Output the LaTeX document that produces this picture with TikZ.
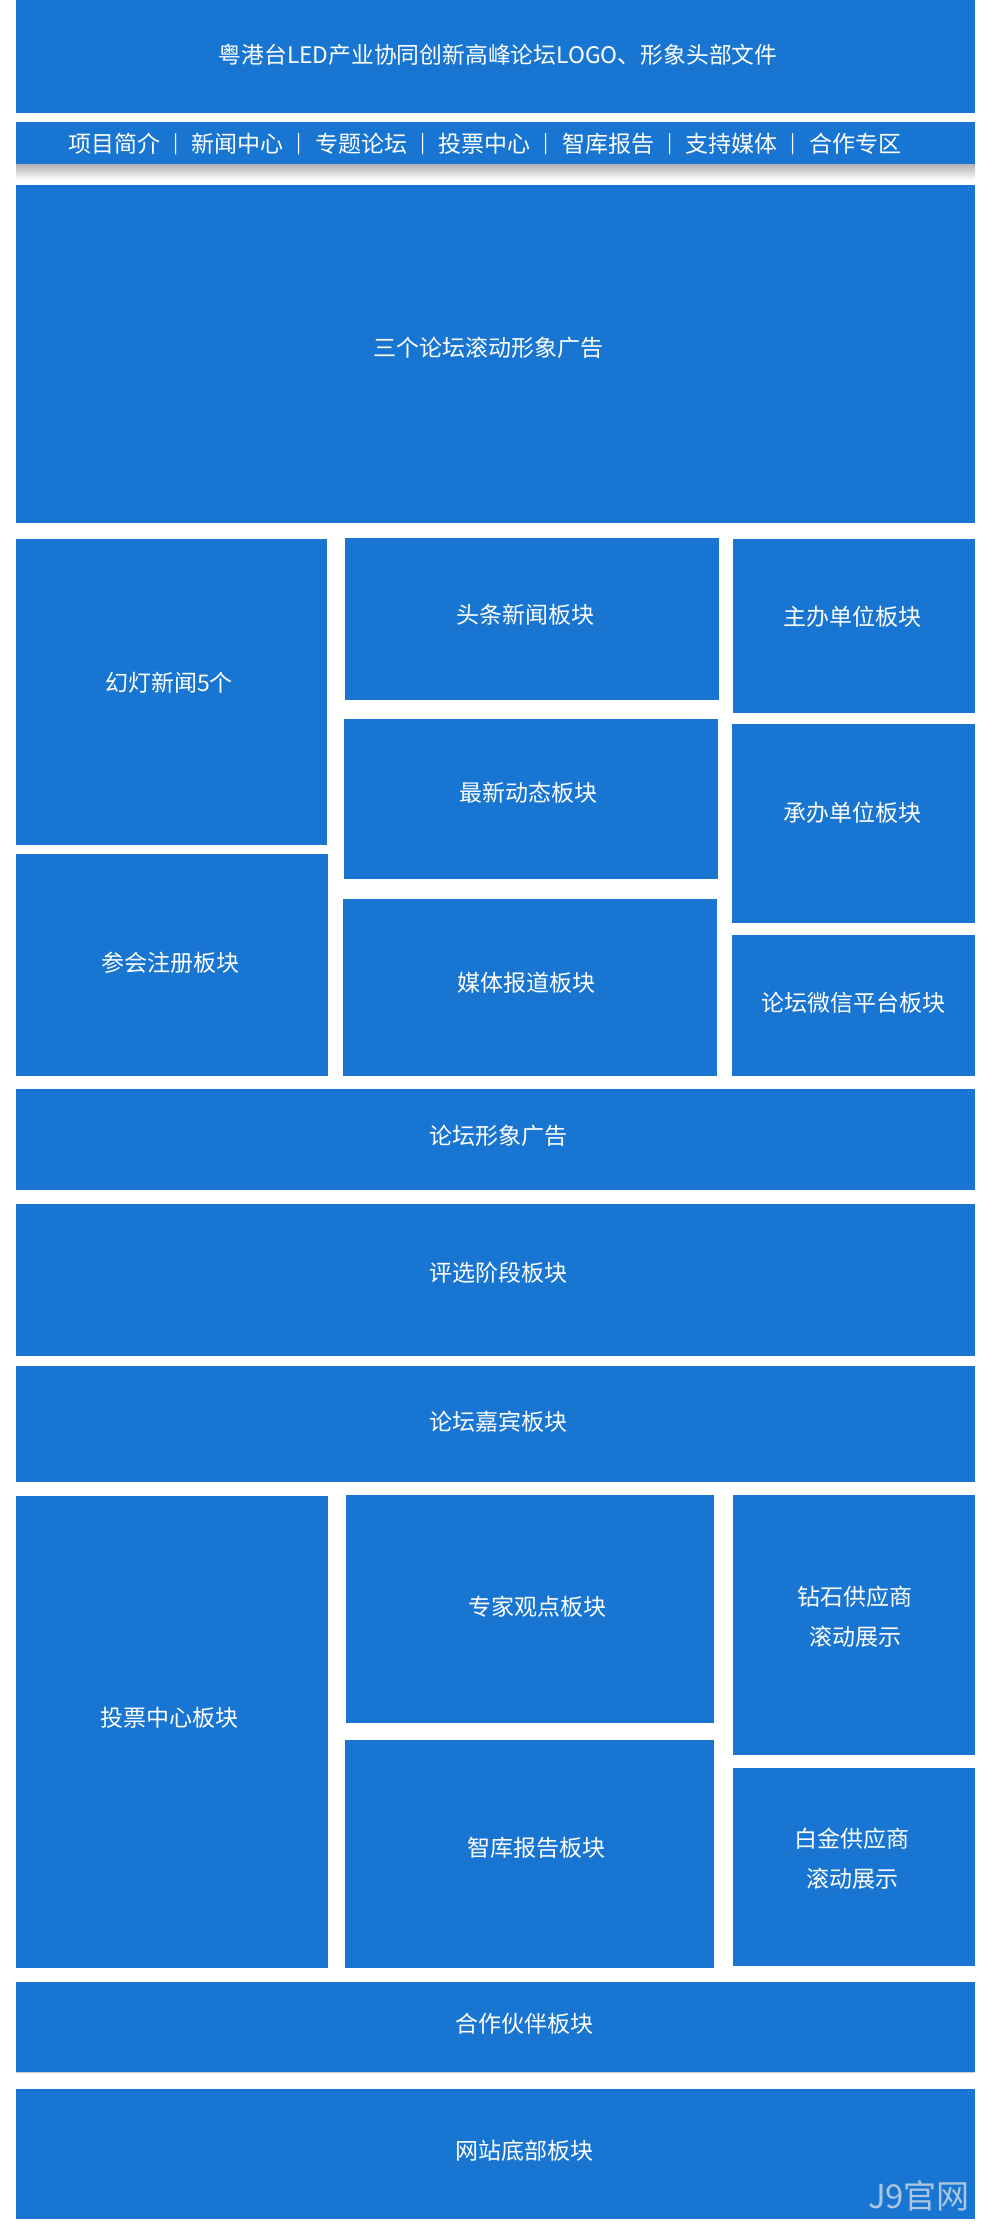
\documentclass[tikz,border=0pt]{standalone}
\usepackage{fontspec}
\setmainfont{Noto Sans CJK SC}
\definecolor{blk}{RGB}{24,118,210}
\definecolor{wmark}{RGB}{172,198,224}
\begin{document}
\begin{tikzpicture}[x=1pt,y=-1pt,
  box/.style={fill=blk, draw=none},
  lbl/.style={text=white, font=\fontsize{23}{40}\selectfont, inner sep=0pt, align=center},
  navlbl/.style={text=white, font=\fontsize{23}{28}\selectfont, inner sep=0pt},
  sep/.style={text=white, font=\fontsize{19}{22}\selectfont, inner sep=0pt}]
\useasboundingbox[fill=white] (0,0) rectangle (992,2227);

% header
\fill[box] (16,0) rectangle (975,113);
\node[lbl, font=\fontsize{22.8}{26}\selectfont] (title) at (498,55) {粤港台LED产业协同创新高峰论坛LOGO、形象头部文件};

% navigation bar
\fill[box] (16,122) rectangle (975,164);
\shade[top color=black!30, bottom color=white] (16,164) rectangle (975,180);
\node[navlbl] (n1) at (114,144) {项目简介};
\node[navlbl] (n2) at (237.5,144) {新闻中心};
\node[navlbl] (n3) at (361,144) {专题论坛};
\node[navlbl] (n4) at (484.5,144) {投票中心};
\node[navlbl] (n5) at (608,144) {智库报告};
\node[navlbl] (n6) at (731.5,144) {支持媒体};
\node[navlbl] (n7) at (855,144) {合作专区};
\node[sep] (s1) at (176,144) {|};
\node[sep] (s2) at (299.5,144) {|};
\node[sep] (s3) at (423,144) {|};
\node[sep] (s4) at (546.5,144) {|};
\node[sep] (s5) at (670,144) {|};
\node[sep] (s6) at (793.5,144) {|};

% banner
\fill[box] (16,185) rectangle (975,523);
\node[lbl] (banner) at (488,348) {三个论坛滚动形象广告};

% row 2
\fill[box] (16,539) rectangle (327,845);
\node[lbl] (slide) at (169,683) {幻灯新闻5个};
\fill[box] (345,538) rectangle (719,700);
\node[lbl] (head) at (525,615) {头条新闻板块};
\fill[box] (733,539) rectangle (975,713);
\node[lbl] (host) at (852,617) {主办单位板块};
\fill[box] (344,719) rectangle (718,879);
\node[lbl] (latest) at (528,793) {最新动态板块};
\fill[box] (732,724) rectangle (975,923);
\node[lbl] (org) at (852,813) {承办单位板块};
\fill[box] (16,854) rectangle (328,1076);
\node[lbl] (reg) at (170,963) {参会注册板块};
\fill[box] (343,899) rectangle (717,1076);
\node[lbl] (media) at (526,983) {媒体报道板块};
\fill[box] (732,935) rectangle (975,1076);
\node[lbl] (wechat) at (853,1003) {论坛微信平台板块};

% full-width rows
\fill[box] (16,1089) rectangle (975,1190);
\node[lbl] (ad) at (498,1136) {论坛形象广告};
\fill[box] (16,1204) rectangle (975,1356);
\node[lbl] (select) at (498,1273) {评选阶段板块};
\fill[box] (16,1366) rectangle (975,1482);
\node[lbl] (guest) at (498,1422) {论坛嘉宾板块};

% row 3
\fill[box] (16,1496) rectangle (328,1968);
\node[lbl] (vote) at (169,1718) {投票中心板块};
\fill[box] (346,1495) rectangle (714,1723);
\node[lbl] (expert) at (537,1607) {专家观点板块};
\fill[box] (345,1740) rectangle (714,1968);
\node[lbl] (think) at (536,1848) {智库报告板块};
\fill[box] (733,1495) rectangle (975,1755);
\node[lbl] (diamond) at (855,1617) {钻石供应商\\滚动展示};
\fill[box] (733,1768) rectangle (975,1966);
\node[lbl] (plat) at (852,1858.5) {白金供应商\\滚动展示};

% bottom rows
\fill[box] (16,1982) rectangle (975,2072);
\draw[black!20, line width=1pt] (16,2072.5) -- (975,2072.5);
\node[lbl] (partner) at (524,2024) {合作伙伴板块};
\fill[box] (16,2089) rectangle (975,2219);
\node[lbl] (footer) at (524,2151) {网站底部板块};

% watermark
\node[text=wmark, font=\fontsize{33}{36}\selectfont, inner sep=0pt] (wm) at (919,2196) {J9官网};
\end{tikzpicture}
\end{document}
